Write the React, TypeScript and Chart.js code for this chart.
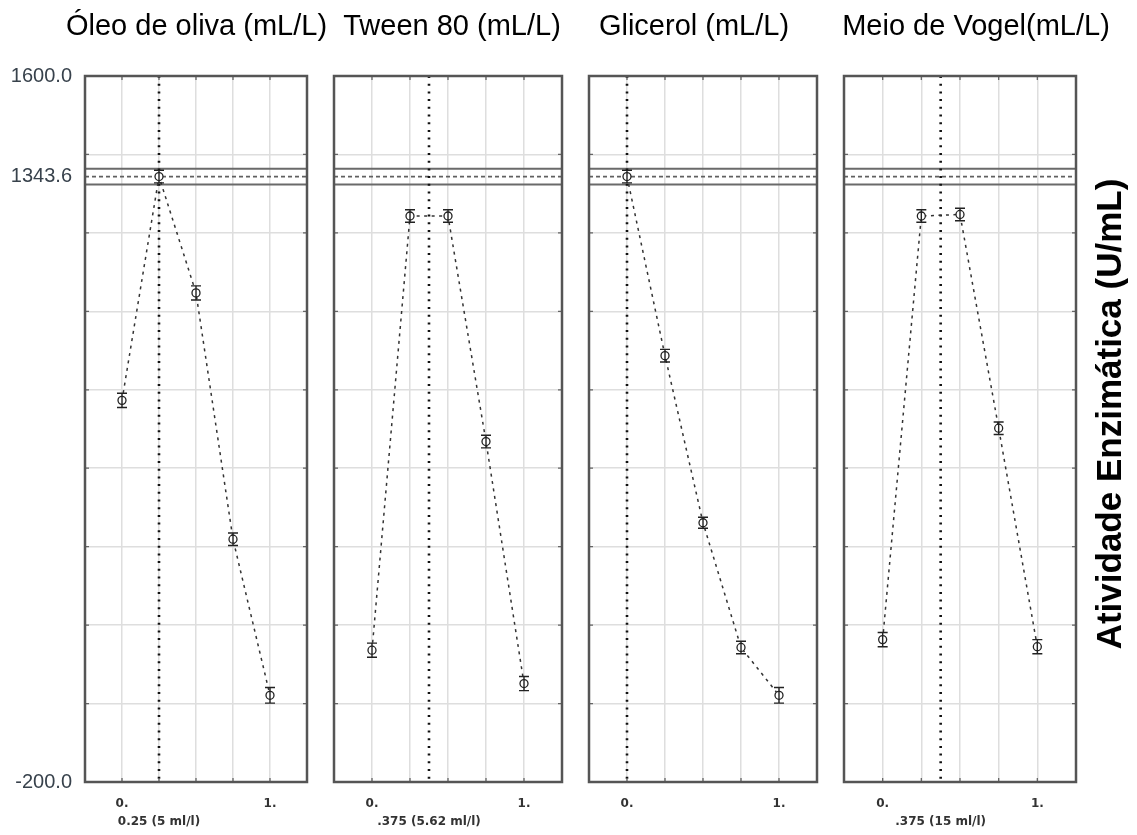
import React, { useEffect, useRef } from 'react';
import { Chart, registerables } from 'chart.js';

Chart.register(...registerables);

// ---------------- data ----------------
const levels = [0, 0.25, 0.5, 0.75, 1];
const panelTitles = ['Óleo de oliva (mL/L)', 'Tween 80 (mL/L)', 'Glicerol (mL/L)', 'Meio de Vogel(mL/L)'];
const oleoValues = [773, 1343.6, 1047, 419, 21];
const tweenValues = [136, 1243, 1243, 668, 51];
const glicerolValues = [1343.6, 887, 461, 143, 21];
const vogelValues = [163, 1243, 1247, 702, 145];
const oleoErrors = [18, 16, 18, 16, 20];
const tweenErrors = [18, 16, 16, 16, 18];
const glicerolErrors = [16, 16, 14, 16, 20];
const vogelErrors = [18, 16, 16, 16, 18];
const optimumLevels = [0.25, 0.375, 0, 0.375];
const optimumLabels = ['0.25 (5 ml/l)', '.375 (5.62 ml/l)', '', '.375 (15 ml/l)'];
const predictedValue = 1343.6;
const predictedHalfBand = 20;
const yMin = -200;
const yMax = 1600;
const yStep = 200;
const yLabelValues = [1600, 1343.6, -200];
const yLabelTexts = ['1600.0', '1343.6', '-200.0'];
const xMin = -0.25;
const xMax = 1.25;
const xStep = 0.25;
const xLabelValues = [0, 1];
const xLabelTexts = ['0.', '1.'];
const yAxisTitle = 'Atividade Enzimática (U/mL)';

const seriesValues = [oleoValues, tweenValues, glicerolValues, vogelValues];
const seriesErrors = [oleoErrors, tweenErrors, glicerolErrors, vogelErrors];

// ---------------- layout (px) ----------------
const H = 835;
const panelLayout = [
  { cl: 0, cw: 393, plotL: 85, plotR: 307 },
  { cl: 318, cw: 268, plotL: 334, plotR: 562 },
  { cl: 555, cw: 278, plotL: 589, plotR: 817 },
  { cl: 815, cw: 322, plotL: 844, plotR: 1076 },
];
const TITLE_FONT = '"Liberation Sans", Arial, sans-serif';
const TICK_FONT = '"DejaVu Sans", Verdana, sans-serif';

const near = (a: number, b: number) => Math.abs(a - b) < 1e-6;

function makeConfig(i: number): any {
  const lay = panelLayout[i];
  const values = seriesValues[i];
  const errors = seriesErrors[i];
  const opt = optimumLevels[i];
  const optLabel = optimumLabels[i];

  const panelPlugin = {
    id: 'panelDecor' + i,
    beforeDatasetsDraw(chart: any) {
      const { ctx, chartArea: a, scales } = chart;
      const x = scales.x, y = scales.y;
      ctx.save();
      // predicted band
      ctx.strokeStyle = '#6a6a6a';
      ctx.lineWidth = 2;
      for (const v of [predictedValue + predictedHalfBand, predictedValue - predictedHalfBand]) {
        const py = y.getPixelForValue(v);
        ctx.beginPath();
        ctx.moveTo(a.left, py);
        ctx.lineTo(a.right, py);
        ctx.stroke();
      }
      ctx.setLineDash([4, 3]);
      ctx.lineWidth = 1.7;
      ctx.strokeStyle = '#606060';
      const pc = y.getPixelForValue(predictedValue);
      ctx.beginPath();
      ctx.moveTo(a.left, pc);
      ctx.lineTo(a.right, pc);
      ctx.stroke();
      // optimum dotted vertical
      ctx.setLineDash([2, 5.7]);
      ctx.lineWidth = 2.6;
      ctx.strokeStyle = '#111';
      const px = x.getPixelForValue(opt);
      ctx.beginPath();
      ctx.moveTo(px, a.top);
      ctx.lineTo(px, a.bottom);
      ctx.stroke();
      ctx.restore();
    },
    afterDatasetsDraw(chart: any) {
      const { ctx, scales } = chart;
      const x = scales.x, y = scales.y;
      ctx.save();
      ctx.strokeStyle = '#222';
      ctx.lineWidth = 1.4;
      levels.forEach((lv, k) => {
        const px = x.getPixelForValue(lv);
        const top = y.getPixelForValue(values[k] + errors[k]);
        const bot = y.getPixelForValue(values[k] - errors[k]);
        ctx.beginPath();
        ctx.moveTo(px, top);
        ctx.lineTo(px, bot);
        ctx.moveTo(px - 5, top);
        ctx.lineTo(px + 5, top);
        ctx.moveTo(px - 5, bot);
        ctx.lineTo(px + 5, bot);
        ctx.stroke();
      });
      ctx.restore();
    },
    afterDraw(chart: any) {
      const { ctx, chartArea: a, scales } = chart;
      const x = scales.x, y = scales.y;
      ctx.save();
      // inward tick marks
      ctx.strokeStyle = '#666';
      ctx.lineWidth = 1.3;
      ctx.beginPath();
      for (let v = xMin + xStep; v < xMax - 1e-6; v += xStep) {
        const px = x.getPixelForValue(v);
        ctx.moveTo(px, a.top);
        ctx.lineTo(px, a.top + 4);
        ctx.moveTo(px, a.bottom);
        ctx.lineTo(px, a.bottom - 4);
      }
      for (let v = yMin + yStep; v < yMax - 1e-6; v += yStep) {
        const py = y.getPixelForValue(v);
        ctx.moveTo(a.left, py);
        ctx.lineTo(a.left + 4, py);
        ctx.moveTo(a.right, py);
        ctx.lineTo(a.right - 4, py);
      }
      ctx.stroke();
      // frame
      ctx.strokeStyle = '#555';
      ctx.lineWidth = 2.5;
      ctx.strokeRect(a.left, a.top, a.right - a.left, a.bottom - a.top);
      // right-hand axis title (last panel only)
      if (i === panelTitles.length - 1) {
        ctx.translate(1111 - lay.cl, 414);
        ctx.rotate(-Math.PI / 2);
        ctx.fillStyle = '#000';
        ctx.font = 'bold 35px ' + TITLE_FONT;
        ctx.textAlign = 'center';
        ctx.textBaseline = 'middle';
        ctx.fillText(yAxisTitle, 0, 0);
      }
      ctx.restore();
    },
  };

  return {
    type: 'scatter',
    data: {
      datasets: [
        {
          data: levels.map((lv, k) => ({ x: lv, y: values[k] })),
          showLine: true,
          xAxisID: 'x',
          yAxisID: 'y',
          borderColor: '#333',
          borderWidth: 1.5,
          borderDash: [3, 4.5],
          pointRadius: 4,
          pointBorderWidth: 1.3,
          pointBorderColor: '#222',
          pointBackgroundColor: '#fff',
        },
      ],
    },
    options: {
      responsive: false,
      animation: false,
      events: [],
      layout: { padding: 0 },
      plugins: {
        legend: { display: false },
        tooltip: { enabled: false },
        title: {
          display: true,
          text: panelTitles[i],
          color: '#000',
          font: { family: TITLE_FONT, size: 29, weight: 'normal', lineHeight: 1 },
          padding: { top: 12, bottom: 35 },
        },
      },
      scales: {
        x: {
          type: 'linear',
          position: 'bottom',
          min: xMin,
          max: xMax,
          afterBuildTicks: (s: any) => {
            const t: any[] = [];
            for (let v = xMin; v <= xMax + 1e-6; v += xStep) t.push({ value: Math.round(v * 1000) / 1000 });
            if (!t.some((k) => near(k.value, opt))) t.push({ value: opt });
            t.sort((a, b) => a.value - b.value);
            s.ticks = t;
          },
          afterFit: (s: any) => {
            s.height = 53;
          },
          grid: {
            drawTicks: false,
            lineWidth: 1.5,
            color: (c: any) => {
              const v = c.tick ? c.tick.value : 0;
              const onStep = near(Math.round(v / xStep) * xStep, v);
              return onStep ? '#dedede' : 'rgba(0,0,0,0)';
            },
          },
          border: { display: false },
          ticks: {
            autoSkip: false,
            maxRotation: 0,
            minRotation: 0,
            padding: 13,
            color: '#333',
            font: { family: TICK_FONT, size: 12, weight: 'bold', lineHeight: 1.5 },
            callback: (v: number) => {
              const li = xLabelValues.findIndex((w) => near(w, v));
              const main = li >= 0 ? xLabelTexts[li] : '';
              if (near(v, opt) && optLabel) return [main, optLabel];
              return main;
            },
          },
        },
        y: {
          type: 'linear',
          position: 'left',
          min: yMin,
          max: yMax,
          afterBuildTicks: (s: any) => {
            const t: any[] = [];
            for (let v = yMin; v <= yMax; v += yStep) t.push({ value: v });
            t.push({ value: predictedValue });
            t.sort((a, b) => a.value - b.value);
            s.ticks = t;
          },
          afterFit: (s: any) => {
            s.width = lay.plotL - lay.cl;
          },
          grid: {
            drawTicks: false,
            lineWidth: 1.5,
            color: (c: any) => (c.tick && near(c.tick.value, predictedValue) ? 'rgba(0,0,0,0)' : '#dedede'),
          },
          border: { display: false },
          ticks: {
            display: i === 0,
            autoSkip: false,
            padding: 13,
            color: '#38424c',
            font: { family: TITLE_FONT, size: 20 },
            callback: (v: number) => {
              const li = yLabelValues.findIndex((w) => near(w, v));
              return li >= 0 ? yLabelTexts[li] : '';
            },
          },
        },
        yR: {
          type: 'linear',
          position: 'right',
          min: yMin,
          max: yMax,
          grid: { display: false, drawTicks: false },
          border: { display: false },
          ticks: { display: false },
          afterFit: (s: any) => {
            s.width = lay.cl + lay.cw - lay.plotR;
          },
        },
      },
    },
    plugins: [panelPlugin],
  };
}

export default function App() {
  const refs = [useRef<HTMLCanvasElement>(null), useRef<HTMLCanvasElement>(null), useRef<HTMLCanvasElement>(null), useRef<HTMLCanvasElement>(null)];

  useEffect(() => {
    const charts = refs.map((r, i) => new Chart(r.current as HTMLCanvasElement, makeConfig(i)));
    return () => charts.forEach((c) => c.destroy());
  }, []);

  return (
    <div style={{ position: 'absolute', left: 0, top: 0, width: 1137, height: H, background: '#fff', overflow: 'hidden' }}>
      {panelLayout.map((lay, i) => (
        <canvas
          key={i}
          ref={refs[i]}
          width={lay.cw}
          height={H}
          style={{ position: 'absolute', left: lay.cl, top: 0, width: lay.cw, height: H }}
        />
      ))}
    </div>
  );
}
